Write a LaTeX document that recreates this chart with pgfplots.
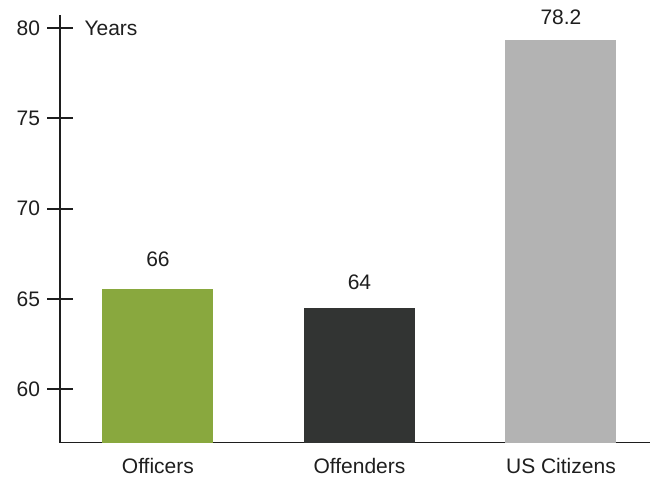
\documentclass[border=0pt]{standalone}
\usepackage{pgfplots}
\pgfplotsset{compat=1.18}
\usepackage{fontspec}
\setmainfont{Liberation Sans}
\definecolor{cgreen}{RGB}{137,168,62}
\definecolor{cdark}{RGB}{50,52,51}
\definecolor{cgray}{RGB}{179,179,179}
\definecolor{ctext}{RGB}{30,30,30}
\newcommand{\bigf}{\fontsize{21}{25}\selectfont}
\begin{document}
\begin{tikzpicture}
\useasboundingbox (-60pt,-33.3pt) rectangle (595pt,442.7pt);
\begin{axis}[
  at={(0,0)}, anchor=south west,
  scale only axis,
  width=590pt, height=427.7pt,
  xmin=-0.486, xmax=2.442,
  ymin=57.03, ymax=80.72,
  axis x line=bottom, axis y line=left,
  axis line style={-, line width=1.6pt, color=ctext},
  xtick={0,1,2},
  xticklabels={Officers,Offenders,US Citizens},
  major x tick style={draw=none},
  ytick={60,65,70,75,80},
  tick align=center,
  major tick length=25pt,
  major y tick style={line width=2pt, color=ctext},
  /pgf/number format/assume math mode=true,
  tick label style={font=\bigf, text=ctext},
  yticklabel style={anchor=east, xshift=-4pt},
  xticklabel style={anchor=north, inner sep=0pt, yshift=10pt},
  ybar, bar width=111pt, bar shift=0pt,
  point meta=explicit symbolic,
  nodes near coords,
  every node near coord/.append style={font=\bigf, text=ctext, anchor=south},
  clip=false,
]
\addplot[fill=cgreen, draw=none, every node near coord/.append style={yshift=18pt}] coordinates {(0,65.57) [66]};
\addplot[fill=cdark, draw=none, every node near coord/.append style={yshift=15pt}] coordinates {(1,64.5) [64]};
\addplot[fill=cgray, draw=none, every node near coord/.append style={yshift=12pt}] coordinates {(2,79.33) [78.2]};
\node[anchor=west, font=\bigf, text=ctext] at (axis cs:-0.486,80) [xshift=21pt] {Years};
\end{axis}
\end{tikzpicture}
\end{document}
